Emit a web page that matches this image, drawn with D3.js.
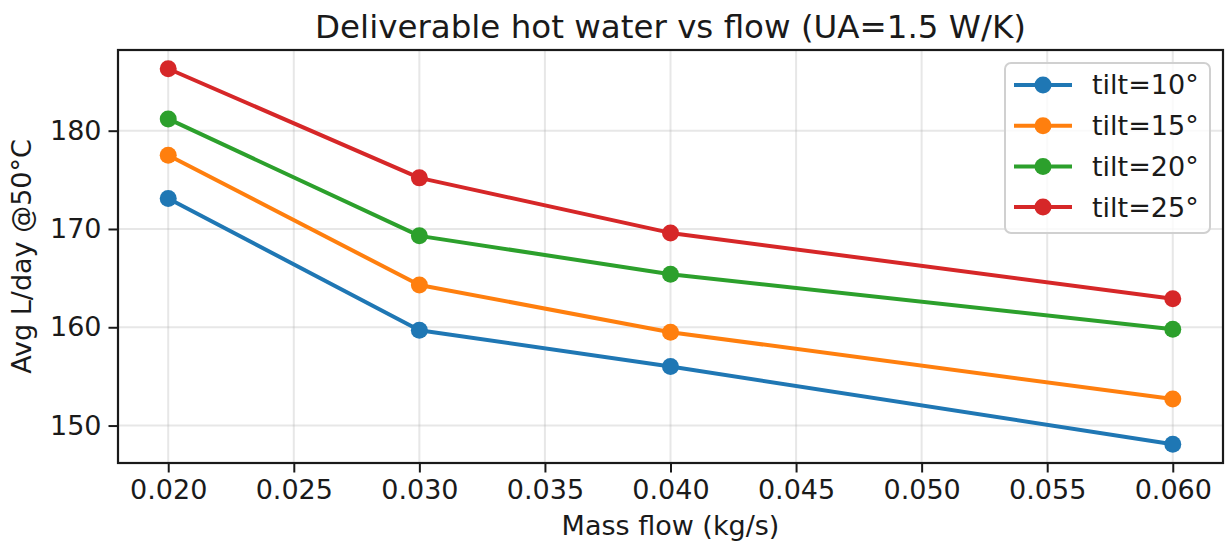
<!DOCTYPE html>
<html>
<head>
<meta charset="utf-8">
<script src="https://cdn.jsdelivr.net/npm/d3@7"></script>
<style>
  body { margin: 0; background: #fff; }
  text { font-family: "DejaVu Sans", sans-serif; fill: #1a1a1a; }
</style>
</head>
<body>
<svg id="chart" width="1231" height="546"></svg>
<script>
// data
var flows = [0.020, 0.030, 0.040, 0.060];
var tiltLabels = ["tilt=10°", "tilt=15°", "tilt=20°", "tilt=25°"];
var tilt10 = [173.1, 159.7, 156.0, 148.1];
var tilt15 = [177.5, 164.3, 159.5, 152.7];
var tilt20 = [181.2, 169.3, 165.4, 159.8];
var tilt25 = [186.3, 175.2, 169.6, 162.9];
var colors = ["#1f77b4", "#ff7f0e", "#2ca02c", "#d62728"];
var xTicks = [0.020, 0.025, 0.030, 0.035, 0.040, 0.045, 0.050, 0.055, 0.060];
var yTicks = [150, 160, 170, 180];

var series = [tilt10, tilt15, tilt20, tilt25];

var W = 1231, H = 546;
var margin = {top: 50, right: 8, bottom: 83, left: 118};
var plotW = W - margin.left - margin.right;
var plotH = H - margin.top - margin.bottom;

var svg = d3.select("#chart");
var g = svg.append("g").attr("transform", "translate(" + margin.left + "," + margin.top + ")");

// matplotlib style 5% padding
var allY = d3.merge(series);
var yMin = d3.min(allY), yMax = d3.max(allY);
var yPad = (yMax - yMin) * 0.05;
var xPad = (d3.max(flows) - d3.min(flows)) * 0.05;

var x = d3.scaleLinear().domain([d3.min(flows) - xPad, d3.max(flows) + xPad]).range([0, plotW]);
var y = d3.scaleLinear().domain([yMin - yPad, yMax + yPad]).range([plotH, 0]);

// grid
g.append("g").selectAll("line").data(xTicks).enter().append("line")
	.attr("x1", function(d) { return x(d); })
	.attr("x2", function(d) { return x(d); })
	.attr("y1", 0).attr("y2", plotH)
	.attr("stroke", "#b0b0b0").attr("stroke-opacity", 0.3).attr("stroke-width", 2);
g.append("g").selectAll("line").data(yTicks).enter().append("line")
	.attr("y1", function(d) { return y(d); })
	.attr("y2", function(d) { return y(d); })
	.attr("x1", 0).attr("x2", plotW)
	.attr("stroke", "#b0b0b0").attr("stroke-opacity", 0.3).attr("stroke-width", 2);

// axes
var xAxis = d3.axisBottom(x).tickValues(xTicks).tickFormat(d3.format(".3f")).tickSizeInner(9.5).tickSizeOuter(0).tickPadding(7);
var yAxis = d3.axisLeft(y).tickValues(yTicks).tickFormat(d3.format("d")).tickSizeInner(9.5).tickSizeOuter(0).tickPadding(7);

var gx = g.append("g").attr("transform", "translate(0," + plotH + ")").call(xAxis);
var gy = g.append("g").call(yAxis);
[gx, gy].forEach(function(ax) {
	ax.select(".domain").remove();
	ax.selectAll(".tick line").attr("stroke", "#1a1a1a").attr("stroke-width", 2);
	ax.selectAll(".tick text").attr("font-size", 27).attr("font-family", "DejaVu Sans").attr("fill", "#1a1a1a");
});

// lines and markers
var line = d3.line()
	.x(function(d, i) { return x(flows[i]); })
	.y(function(d) { return y(d); });

series.forEach(function(s, k) {
	g.append("path")
		.datum(s)
		.attr("d", line)
		.attr("fill", "none")
		.attr("stroke", colors[k])
		.attr("stroke-width", 4)
		.attr("stroke-linejoin", "round")
		.attr("stroke-linecap", "round");
	g.append("g").selectAll("circle").data(s).enter().append("circle")
		.attr("cx", function(d, i) { return x(flows[i]); })
		.attr("cy", function(d) { return y(d); })
		.attr("r", 8.5)
		.attr("fill", colors[k]);
});

// frame
g.append("rect")
	.attr("width", plotW).attr("height", plotH)
	.attr("fill", "none").attr("stroke", "#1a1a1a").attr("stroke-width", 2.2);

// legend
var leg = g.append("g").attr("transform", "translate(" + (1005 - margin.left) + "," + (63 - margin.top) + ")");
leg.append("rect")
	.attr("width", 205).attr("height", 170).attr("rx", 6)
	.attr("fill", "#fff").attr("fill-opacity", 0.8)
	.attr("stroke", "#d0d0d0").attr("stroke-width", 2);
tiltLabels.forEach(function(lbl, k) {
	var row = leg.append("g").attr("transform", "translate(0," + (22 + k * 40.7) + ")");
	row.append("line").attr("x1", 9).attr("x2", 67).attr("y1", 0).attr("y2", 0)
		.attr("stroke", colors[k]).attr("stroke-width", 4);
	row.append("circle").attr("cx", 38).attr("cy", 0).attr("r", 8.5).attr("fill", colors[k]);
	row.append("text").attr("x", 87).attr("y", 0).attr("dy", "0.35em")
		.attr("font-size", 27).text(lbl);
});

// title and labels
svg.append("text")
	.attr("x", margin.left + plotW / 2).attr("y", 38)
	.attr("text-anchor", "middle").attr("font-size", 32.5)
	.text("Deliverable hot water vs flow (UA=1.5 W/K)");
svg.append("text")
	.attr("x", margin.left + plotW / 2).attr("y", 535)
	.attr("text-anchor", "middle").attr("font-size", 27)
	.text("Mass flow (kg/s)");
svg.append("text")
	.attr("transform", "translate(31," + (margin.top + plotH / 2) + ") rotate(-90)")
	.attr("text-anchor", "middle").attr("font-size", 27)
	.text("Avg L/day @50°C");
</script>
</body>
</html>
